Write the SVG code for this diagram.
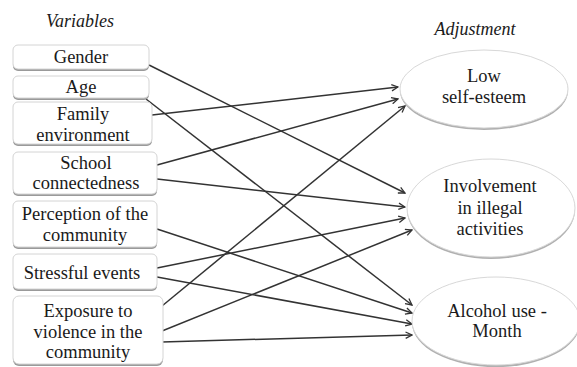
<svg xmlns="http://www.w3.org/2000/svg" width="577" height="367" viewBox="0 0 577 367">
<defs>
<marker id="arr" viewBox="0 0 10 10" refX="9" refY="5" markerWidth="8" markerHeight="8" markerUnits="userSpaceOnUse" orient="auto">
<path d="M1,1 L9,5 L1,9" fill="none" stroke="#333" stroke-width="1.6"/>
</marker>
</defs>
<style>
.box{fill:#fff;stroke:#d4d4d4;stroke-width:1}
.sh{fill:#9a9a9a}
.ell{fill:#fff;stroke:#d8d8d8;stroke-width:1}
.esh{fill:#b0b0b0}
.t{font-family:'Liberation Serif',serif !important;font-size:18.5px;fill:#1a1a1a;text-anchor:middle}
.h{font-family:'Liberation Serif',serif !important;font-size:18px;font-style:italic;fill:#1a1a1a;text-anchor:middle}
.conn line{stroke:#333;stroke-width:1.5;marker-end:url(#arr)}
</style>
<rect width="577" height="367" fill="#fff"/>
<text class="h" x="80" y="27" style="font-family:'Liberation Serif',serif !important">Variables</text>
<text class="h" x="475" y="35" style="font-family:'Liberation Serif',serif !important">Adjustment</text>
<g class="conn">
<line x1="149" y1="65" x2="405" y2="193"/>
<line x1="146" y1="99" x2="412" y2="305"/>
<line x1="152" y1="115" x2="398" y2="87"/>
<line x1="157" y1="165" x2="398" y2="99"/>
<line x1="157" y1="179" x2="405" y2="207"/>
<line x1="157" y1="229" x2="412" y2="313"/>
<line x1="157" y1="268" x2="405" y2="218"/>
<line x1="157" y1="277" x2="412" y2="324"/>
<line x1="162" y1="306" x2="405" y2="106"/>
<line x1="162" y1="331" x2="412" y2="230"/>
<line x1="162" y1="342" x2="412" y2="335"/>
</g>
<g id="gender">
<rect class="sh" x="13" y="47" width="136" height="24" rx="5"/>
<rect class="box" x="13" y="45" width="136" height="24" rx="5"/>
<text class="t" x="81" y="63" style="font-family:'Liberation Serif',serif !important">Gender</text>
</g>
<g id="age">
<rect class="sh" x="13" y="78" width="136" height="22" rx="5"/>
<rect class="box" x="13" y="76" width="136" height="22" rx="5"/>
<text class="t" x="81" y="93" style="font-family:'Liberation Serif',serif !important">Age</text>
</g>
<g id="family">
<rect class="sh" x="13" y="104" width="139" height="42" rx="5"/>
<rect class="box" x="13" y="102" width="139" height="42" rx="5"/>
<text class="t" x="83" y="120" style="font-family:'Liberation Serif',serif !important">Family</text>
<text class="t" x="83" y="141" style="font-family:'Liberation Serif',serif !important">environment</text>
</g>
<g id="school">
<rect class="sh" x="13" y="154" width="144" height="42" rx="5"/>
<rect class="box" x="13" y="152" width="144" height="42" rx="5"/>
<text class="t" x="86" y="169" style="font-family:'Liberation Serif',serif !important">School</text>
<text class="t" x="86" y="189" style="font-family:'Liberation Serif',serif !important">connectedness</text>
</g>
<g id="perception">
<rect class="sh" x="13" y="203" width="144" height="46" rx="5"/>
<rect class="box" x="13" y="201" width="144" height="46" rx="5"/>
<text class="t" x="85" y="220" style="font-family:'Liberation Serif',serif !important">Perception of the</text>
<text class="t" x="85" y="241" style="font-family:'Liberation Serif',serif !important">community</text>
</g>
<g id="stressful">
<rect class="sh" x="13" y="256" width="144" height="35" rx="5"/>
<rect class="box" x="13" y="254" width="144" height="35" rx="5"/>
<text class="t" x="82" y="279" style="font-family:'Liberation Serif',serif !important">Stressful events</text>
</g>
<g id="exposure">
<rect class="sh" x="13" y="298" width="150" height="68" rx="6"/>
<rect class="box" x="13" y="296" width="150" height="68" rx="6"/>
<text class="t" x="88" y="317" style="font-family:'Liberation Serif',serif !important">Exposure to</text>
<text class="t" x="88" y="338" style="font-family:'Liberation Serif',serif !important">violence in the</text>
<text class="t" x="88" y="358" style="font-family:'Liberation Serif',serif !important">community</text>
</g>
<g id="lowselfesteem">
<ellipse class="esh" cx="484" cy="91" rx="84" ry="39"/>
<ellipse class="ell" cx="484" cy="89" rx="84" ry="39"/>
<text class="t" x="484" y="82" style="font-family:'Liberation Serif',serif !important">Low</text>
<text class="t" x="484" y="103" style="font-family:'Liberation Serif',serif !important">self-esteem</text>
</g>
<g id="involvement">
<ellipse class="esh" cx="491" cy="210" rx="84" ry="49"/>
<ellipse class="ell" cx="491" cy="208" rx="84" ry="49"/>
<text class="t" x="490" y="192" style="font-family:'Liberation Serif',serif !important">Involvement</text>
<text class="t" x="490" y="214" style="font-family:'Liberation Serif',serif !important">in illegal</text>
<text class="t" x="490" y="235" style="font-family:'Liberation Serif',serif !important">activities</text>
</g>
<g id="alcohol">
<ellipse class="esh" cx="496" cy="323" rx="84" ry="44"/>
<ellipse class="ell" cx="496" cy="321" rx="84" ry="44"/>
<text class="t" x="497" y="317" style="font-family:'Liberation Serif',serif !important">Alcohol use -</text>
<text class="t" x="497" y="337" style="font-family:'Liberation Serif',serif !important">Month</text>
</g>
</svg>
